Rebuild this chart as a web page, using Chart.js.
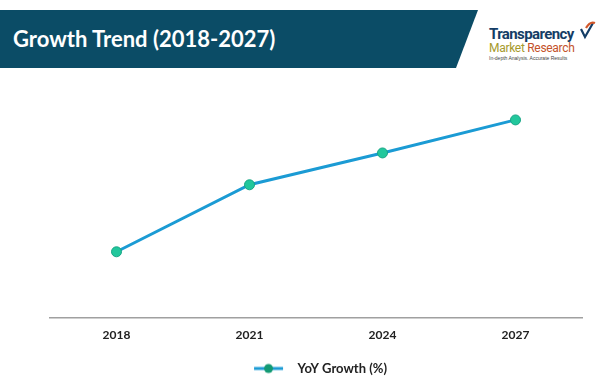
<!DOCTYPE html>
<html>
<head>
<meta charset="utf-8">
<script src="https://cdn.jsdelivr.net/npm/chart.js@4"></script>
<style>
  html, body { margin: 0; padding: 0; background: #fff; }
  #wrap { position: relative; width: 600px; height: 385px; overflow: hidden; font-family: Lato, "Open Sans", sans-serif; }
  #banner {
    position: absolute; left: 0; top: 10px; width: 478px; height: 58px;
    background: #0b4c66;
    clip-path: polygon(0 0, 100% 0, 95.4% 100%, 0 100%);
  }
  #title {
    position: absolute; left: 13px; top: 10px; height: 58px; line-height: 58px;
    color: #fff; font-weight: bold; font-size: 22px; white-space: nowrap;
  }
  #logo { position: absolute; left: 489px; top: 27px; width: 110px; }
  #logo .l1 { font: bold 15px "Liberation Sans Narrow", "Roboto", sans-serif; color: #143d66; letter-spacing: -0.6px; line-height: 15px; }
  #logo .l2 { font: 12px "Liberation Sans Narrow", "Roboto", sans-serif; line-height: 13px; letter-spacing: -0.3px; }
  #logo .l2 .m { color: #a69a2c; }
  #logo .l2 .r { color: #c4522a; }
  #logo .l3 { font: 5px "Liberation Sans", sans-serif; color: #444; line-height: 7px; }
  #tick { position: absolute; left: 580px; top: 20px; width: 16px; height: 20px; }
  #chartBox { position: absolute; left: 0; top: 0; width: 600px; height: 385px; }
</style>
</head>
<body>
<div id="wrap">
  <div id="banner"></div>
  <div id="title">Growth Trend (2018-2027)</div>
  <div id="logo">
    <div class="l1">Transparency</div>
    <div class="l2"><span class="m">Market</span> <span class="r">Research</span></div>
    <div class="l3">In-depth Analysis. Accurate Results</div>
  </div>
  <svg id="tick" viewBox="0 0 16 20">
    <path d="M1 9 L5 17 L13 3" fill="none" stroke="#143d66" stroke-width="2.2"/>
    <path d="M6 8 Q10 1 15 3" fill="none" stroke="#d2572a" stroke-width="2.2"/>
  </svg>
  <div id="chartBox"><canvas id="c"></canvas></div>
</div>
<script>
const years = ["2018", "2021", "2024", "2027"];
const yoyGrowth = [27.7, 55.9, 69.3, 83.2];
const seriesLabel = "YoY Growth (%)";

const lineColor = "#1b9bd4";
const pointFill = "#22c79c";
const pointEdge = "#17a585";
const fontFam = "Lato, 'Open Sans', sans-serif";

// legend marker: short line with a dot on it, with some blank room either side
function legendMarker() {
  const cv = document.createElement("canvas");
  cv.width = 46; cv.height = 12;
  const g = cv.getContext("2d");
  g.strokeStyle = lineColor;
  g.lineWidth = 3;
  g.beginPath(); g.moveTo(9, 6); g.lineTo(38, 6); g.stroke();
  g.fillStyle = "#139a74";
  g.beginPath(); g.arc(23.5, 6, 4.5, 0, Math.PI * 2); g.fill();
  return cv;
}

const marker = legendMarker();

new Chart(document.getElementById("c").getContext("2d"), {
  type: "line",
  data: {
    labels: years,
    datasets: [{
      label: seriesLabel,
      data: yoyGrowth,
      borderColor: lineColor,
      borderWidth: 3,
      backgroundColor: pointFill,
      pointBackgroundColor: pointFill,
      pointBorderColor: pointEdge,
      pointBorderWidth: 1,
      pointRadius: 5,
      pointStyle: "circle",
      tension: 0
    }]
  },
  options: {
    responsive: true,
    maintainAspectRatio: false,
    animation: false,
    layout: { padding: { top: 80, left: 50, right: 18, bottom: 0 } },
    plugins: {
      tooltip: { enabled: false },
      legend: {
        position: "bottom",
        labels: {
          usePointStyle: true,
          pointStyleWidth: 46,
          generateLabels: () => [{
            text: seriesLabel,
            pointStyle: marker,
            fillStyle: pointFill,
            strokeStyle: lineColor,
            lineWidth: 0,
            hidden: false,
            datasetIndex: 0,
            fontColor: "#222"
          }],
          color: "#222",
          padding: 10,
          font: { size: 13, weight: "bold", family: fontFam }
        }
      }
    },
    scales: {
      x: {
        offset: true,
        grid: { display: false, drawTicks: false },
        border: { display: true, color: "#a0a0a0", width: 1.5 },
        ticks: {
          color: "#222",
          padding: 10,
          font: { size: 12, weight: "bold", family: fontFam }
        }
      },
      y: {
        display: false,
        min: 0,
        max: 100
      }
    }
  }
});
</script>
</body>
</html>
